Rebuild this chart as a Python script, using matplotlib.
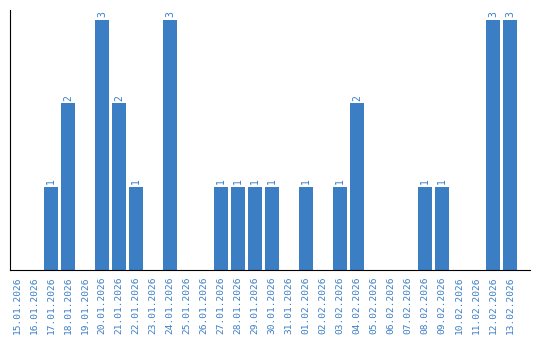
import matplotlib
matplotlib.use("Agg")
import matplotlib.pyplot as plt
import numpy as np

dates = ["15.01.2026", "16.01.2026", "17.01.2026", "18.01.2026", "19.01.2026",
         "20.01.2026", "21.01.2026", "22.01.2026", "23.01.2026", "24.01.2026",
         "25.01.2026", "26.01.2026", "27.01.2026", "28.01.2026", "29.01.2026",
         "30.01.2026", "31.01.2026", "01.02.2026", "02.02.2026", "03.02.2026",
         "04.02.2026", "05.02.2026", "06.02.2026", "07.02.2026", "08.02.2026",
         "09.02.2026", "10.02.2026", "11.02.2026", "12.02.2026", "13.02.2026"]
counts = [0, 0, 1, 2, 0, 3, 2, 1, 0, 3, 0, 0, 1, 1, 1, 1, 0, 1, 0, 1, 2,
          0, 0, 0, 1, 1, 0, 0, 3, 3]

blue = "#3b7ec4"

fig = plt.figure(figsize=(5.4, 3.4), dpi=100)
ax = fig.add_axes([0.0185, 0.206, 0.963, 0.765])
x = np.arange(len(dates))
ax.bar(x, counts, width=0.82, color=blue)
for xi, c in zip(x, counts):
    if c > 0:
        ax.text(xi, c + 0.03, str(c), rotation=90, ha="center", va="bottom",
                color=blue, fontsize=7, family="DejaVu Sans Mono")

ax.set_xlim(-0.41, 30.18)
ax.set_ylim(0, 3.12)
ax.set_xticks(x)
ax.set_xticklabels(dates, rotation=90, color=blue, fontsize=6.8,
                   family="DejaVu Sans Mono")
ax.tick_params(axis="x", length=0, pad=5)
ax.set_yticks([])
ax.spines["top"].set_visible(False)
ax.spines["right"].set_visible(False)

fig.savefig("out.png", dpi=100)
